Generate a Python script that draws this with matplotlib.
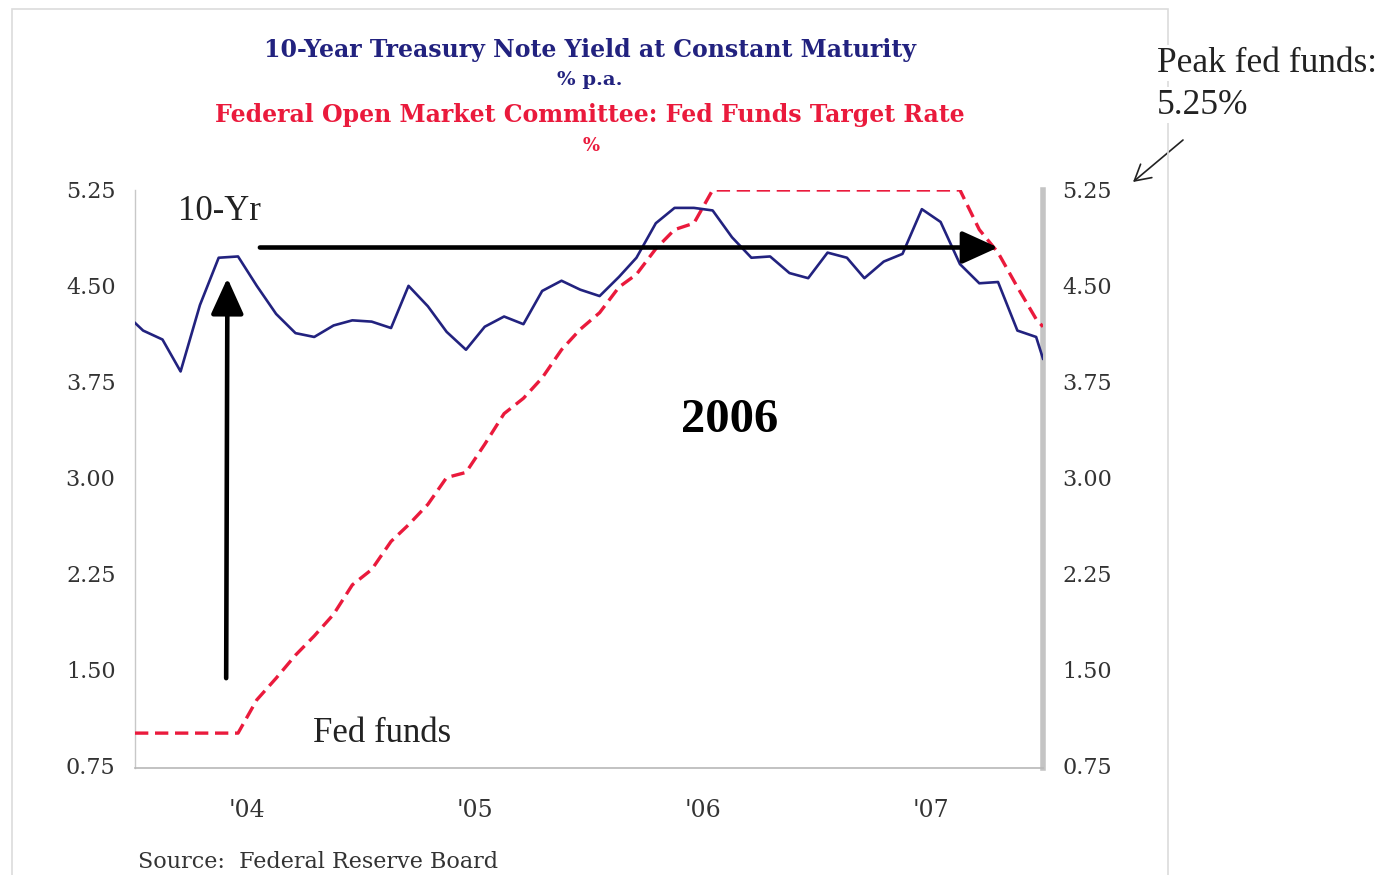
import matplotlib
matplotlib.use("Agg")
import matplotlib.pyplot as plt
from matplotlib.patches import Rectangle
import pandas as pd

# ---------------- data ----------------
monthly_dates = list(pd.date_range("2004-01-01", periods=48, freq="MS"))
dates = [pd.Timestamp("2003-12-19")] + monthly_dates + [pd.Timestamp("2007-12-12")]

ten_year = [4.21,
            4.15, 4.08, 3.83, 4.35, 4.72, 4.73, 4.50, 4.28, 4.13, 4.10, 4.19, 4.23,
            4.22, 4.17, 4.50, 4.34, 4.14, 4.00, 4.18, 4.26, 4.20, 4.46, 4.54, 4.47,
            4.42, 4.57, 4.72, 4.99, 5.11, 5.11, 5.09, 4.88, 4.72, 4.73, 4.60, 4.56,
            4.76, 4.72, 4.56, 4.69, 4.75, 5.10, 5.00, 4.67, 4.52, 4.53, 4.15, 4.10,
            3.93]

fed_funds = [1.00,
             1.00, 1.00, 1.00, 1.00, 1.00, 1.00, 1.26, 1.43, 1.61, 1.76, 1.93, 2.16,
             2.28, 2.50, 2.63, 2.79, 3.00, 3.04, 3.26, 3.50, 3.62, 3.78, 4.00, 4.16,
             4.29, 4.49, 4.59, 4.79, 4.94, 4.99, 5.25, 5.25, 5.25, 5.25, 5.25, 5.25,
             5.25, 5.25, 5.25, 5.25, 5.25, 5.25, 5.25, 5.25, 4.94, 4.76, 4.49, 4.24,
             4.18]

y_ticks = [0.75, 1.50, 2.25, 3.00, 3.75, 4.50, 5.25]
y_tick_labels = ["0.75", "1.50", "2.25", "3.00", "3.75", "4.50", "5.25"]
x_label_dates = [pd.Timestamp(f"{y}-06-15") for y in (2004, 2005, 2006, 2007)]
x_labels = ["'04", "'05", "'06", "'07"]

# ---------------- figure ----------------
W, H = 1386, 875
fig = plt.figure(figsize=(W / 100, H / 100), dpi=100)
fig.patch.set_facecolor("white")

def fx(px):
    return px / W

def fy(py):
    return 1 - py / H

# outer frame
fig.patches.append(Rectangle((fx(12), fy(890)), fx(1168) - fx(12), fy(9) - fy(890),
                             transform=fig.transFigure, fill=False,
                             edgecolor="#dcdcdc", lw=1.2, zorder=0))

ax = fig.add_axes([fx(135), fy(768), fx(1043) - fx(135), fy(190) - fy(768)])
ax.set_facecolor("none")

navy = "#22227f"
red = "#ea1a3c"

ax.plot(dates, fed_funds, color=red, lw=2.4, dashes=(4, 2.0), zorder=3)
ax.plot(dates, ten_year, color=navy, lw=1.9, zorder=4)

ax.set_xlim(dates[0], dates[-1])
ax.set_ylim(0.727, 5.25)

ax.set_yticks(y_ticks)
ax.set_yticklabels(y_tick_labels)
ax.set_xticks(x_label_dates)
ax.set_xticklabels(x_labels)
ax.tick_params(axis="y", length=0, labelleft=True, labelright=True, pad=14,
               labelsize=16, labelcolor="#333333")
ax.tick_params(axis="x", length=0, pad=22, labelsize=17, labelcolor="#333333")
for lab in ax.get_xticklabels() + ax.get_yticklabels():
    lab.set_family("DejaVu Serif")
for t in ax.yaxis.get_major_ticks():
    t.label2.set_family("DejaVu Serif")

ax.spines["top"].set_visible(False)
ax.spines["left"].set_color("#c8c8c8")
ax.spines["left"].set_linewidth(1.0)
ax.spines["bottom"].set_color("#b8b8b8")
ax.spines["bottom"].set_linewidth(1.2)
ax.spines["right"].set_color("#c4c4c4")
ax.spines["right"].set_linewidth(4.0)

# ---------------- arrows ----------------
arrow_style = "-|>,head_length=22,head_width=10"
ax.annotate("", xy=(pd.Timestamp("2004-05-15"), 4.56),
            xytext=(pd.Timestamp("2004-05-13"), 1.43),
            arrowprops=dict(arrowstyle=arrow_style, lw=3.3, color="black",
                            mutation_scale=1, shrinkA=0, shrinkB=0), zorder=6)
ax.annotate("", xy=(pd.Timestamp("2007-10-01"), 4.80),
            xytext=(pd.Timestamp("2004-07-06"), 4.80),
            arrowprops=dict(arrowstyle=arrow_style, lw=3.3, color="black",
                            mutation_scale=1, shrinkA=0, shrinkB=0), zorder=6)

# ---------------- texts ----------------
serif = "Liberation Serif"
fig.text(fx(178), fy(212), "10-Yr", family=serif, fontsize=25, color="#222222",
         ha="left", va="center")
fig.text(fx(313), fy(733), "Fed funds", family=serif, fontsize=25, color="#222222",
         ha="left", va="center")
fig.text(fx(730), fy(420), "2006", family=serif, fontsize=35, fontweight="bold",
         color="black", ha="center", va="center")
wbox = dict(facecolor="white", edgecolor="none", pad=1)
fig.text(fx(1157), fy(63), "Peak fed funds:", family=serif, fontsize=25.5,
         color="#222222", ha="left", va="center", bbox=wbox)
fig.text(fx(1157), fy(105), "5.25%", family=serif, fontsize=25.5,
         color="#222222", ha="left", va="center", bbox=wbox)
ax.annotate("", xy=(1133, H - 182), xytext=(1183, H - 140),
            xycoords="figure pixels", textcoords="figure pixels",
            annotation_clip=False,
            arrowprops=dict(arrowstyle="->,head_length=0.8,head_width=0.45",
                            lw=1.2, color="#222222", mutation_scale=14,
                            shrinkA=0, shrinkB=0))

tfont = "DejaVu Serif"
fig.text(fx(590), fy(50), "10-Year Treasury Note Yield at Constant Maturity",
         family=tfont, fontsize=17, fontweight="bold", color=navy,
         ha="center", va="center")
fig.text(fx(590), fy(80), "% p.a.", family=tfont, fontsize=14, fontweight="bold",
         color=navy, ha="center", va="center")
fig.text(fx(590), fy(115), "Federal Open Market Committee: Fed Funds Target Rate",
         family=tfont, fontsize=17, fontweight="bold", color=red,
         ha="center", va="center")
fig.text(fx(591), fy(146), "%", family=tfont, fontsize=13, fontweight="bold",
         color=red, ha="center", va="center")

fig.text(fx(138), fy(862), "Source:  Federal Reserve Board", family=tfont,
         fontsize=16, color="#333333", ha="left", va="center")

fig.savefig("out.png", dpi=100, facecolor="white")
